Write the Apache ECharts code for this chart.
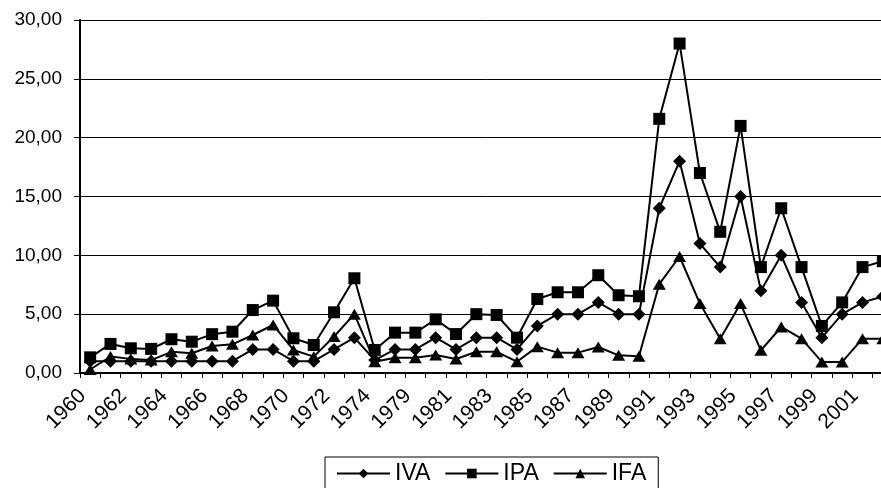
<!DOCTYPE html>
<html>
<head>
<meta charset="utf-8">
<script src="https://cdn.jsdelivr.net/npm/echarts@6/dist/echarts.min.js"></script>
<style>
html,body{margin:0;padding:0;background:#fff;overflow:hidden;}
#c{width:893px;height:488px;}
</style>
</head>
<body>
<div id="c"></div>
<script>
const years = ['1960','1961','1962','1963','1964','1965','1966','1967','1968','1969',
  '1970','1971','1972','1973','1974','1978','1979','1980','1981','1982','1983','1984',
  '1985','1986','1987','1988','1989','1990','1991','1992','1993','1994','1995','1996',
  '1997','1998','1999','2000','2001','2002'];
const IVA = [1,1,1,1,1,1,1,1,2,2,1,1,2,3,1.1,2,2,3,2,3,3,2,4,5,5,6,5,5,14,18,11,9,15,7,10,6,3,5,6,6.5];
const IPA = [1.33,2.47,2.1,2.05,2.87,2.66,3.3,3.51,5.35,6.15,2.95,2.38,5.16,8.05,1.96,3.43,3.43,4.56,3.31,5.0,4.93,3.0,6.29,6.86,6.86,8.31,6.61,6.52,21.6,28,17,12,21,9,14,9,4,6,9,9.5];
const IFA = [0.3,1.4,1.2,1.1,1.8,1.68,2.3,2.44,3.23,4.08,1.96,1.39,3.1,5.0,0.96,1.3,1.3,1.53,1.19,1.81,1.8,0.96,2.24,1.73,1.73,2.21,1.5,1.42,7.55,9.9,5.9,2.92,5.9,1.93,3.91,2.92,0.94,0.94,2.92,2.92];
const yTicks = [0,5,10,15,20,25,30];

const font = 'Liberation Sans, Arial, sans-serif';
const chart = echarts.init(document.getElementById('c'), null, {renderer:'canvas'});
function mk(name, data, symbol, size){
  return {name, type:'line', data, symbol, symbolSize:size, showAllSymbol:true,
    lineStyle:{color:'#000', width:2}, itemStyle:{color:'#000', borderColor:'#000', borderWidth:0},
    emphasis:{disabled:true}, animation:false, z:2};
}
chart.setOption({
  animation:false,
  backgroundColor:'#fff',
  textStyle:{fontFamily:font},
  grid:{left:80, right:0, top:20, bottom:115, containLabel:false},
  legend:{
    left:325, top:457, orient:'horizontal',
    borderColor:'#000', borderWidth:1, padding:[5,12,10,11],
    itemWidth:53, itemHeight:12, itemGap:14,
    textStyle:{fontFamily:font, fontSize:23, color:'#000', padding:[0,0,0,0]},
    data:['IVA','IPA','IFA']
  },
  xAxis:{
    type:'category', data:years, boundaryGap:true,
    axisLine:{lineStyle:{color:'#000', width:2}},
    axisTick:{show:true, interval:0, length:5, lineStyle:{color:'#000', width:1}},
    axisLabel:{interval:1, rotate:45, fontFamily:font, fontSize:21, color:'#000', margin:27, verticalAlign:'bottom'},
    splitLine:{show:false}
  },
  yAxis:{
    type:'value', min:0, max:30, interval:5,
    axisLine:{show:true, lineStyle:{color:'#000', width:2}},
    axisTick:{show:true, length:6, lineStyle:{color:'#000', width:1}},
    axisLabel:{fontFamily:font, fontSize:19, color:'#000', margin:18,
      formatter:v=>v.toFixed(2).replace('.',',')},
    splitLine:{show:true, lineStyle:{color:'#000', width:1}}
  },
  series:[
    mk('IVA', IVA, 'diamond', [13,13]),
    mk('IPA', IPA, 'rect', [12,12]),
    mk('IFA', IFA, 'triangle', [13,11])
  ]
});
</script>
</body>
</html>
